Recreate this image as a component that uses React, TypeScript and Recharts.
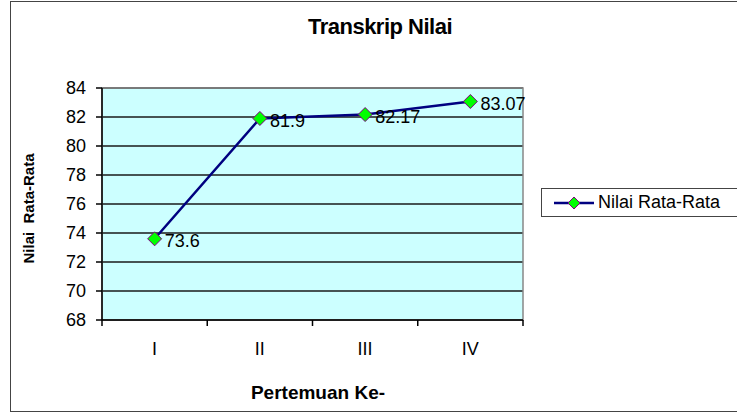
import { LineChart, Line, XAxis, YAxis, CartesianGrid, Legend, LabelList, ReferenceArea } from 'recharts';

const categories = ['I', 'II', 'III', 'IV'];
const nilaiRataRata = [73.6, 81.9, 82.17, 83.07];
const yTicks = [68, 70, 72, 74, 76, 78, 80, 82, 84];
const boundaryTicks = [0, 1, 2, 3, 4];

// pos = tengah kategori pada sumbu numerik 0..4
const data = categories.map((name, i) => ({ name, pos: i + 0.5, value: nilaiRataRata[i] }));

const FONT = 'Arial, "Liberation Sans", sans-serif';

// titik berbentuk belah ketupat hijau
const Diamond = (props: any) => {
  const { cx, cy } = props;
  if (cx == null || cy == null) return null;
  const r = 7;
  return (
    <polygon
      points={`${cx},${cy - r} ${cx + r},${cy} ${cx},${cy + r} ${cx - r},${cy}`}
      fill="#00ff00"
      stroke="#800080"
      strokeWidth={1}
    />
  );
};

const LegendBox = () => (
  <div
    style={{
      width: 200,
      height: 29,
      border: '1.5px solid #444',
      background: '#fff',
      display: 'flex',
      alignItems: 'center',
      fontFamily: FONT,
      fontSize: 18,
      color: '#000',
      boxSizing: 'border-box',
    }}
  >
    <svg width={52} height={16} style={{ marginLeft: 10 }}>
      <line x1={2} y1={8} x2={42} y2={8} stroke="#000080" strokeWidth={2.5} />
      <polygon points="22,2 28,8 22,14 16,8" fill="#00ff00" stroke="#800080" strokeWidth={1} />
    </svg>
    <span style={{ marginLeft: -6 }}>Nilai Rata-Rata</span>
  </div>
);

export default function App() {
  return (
    <div style={{ position: 'absolute', left: 0, top: 0, width: 737, height: 418, background: '#fff', overflow: 'hidden' }}>
      {/* bingkai luar */}
      <div
        style={{
          position: 'absolute',
          left: 10,
          top: 1,
          width: 740,
          height: 411,
          border: '1.5px solid #444',
          boxSizing: 'border-box',
        }}
      />
      <div
        style={{
          position: 'absolute',
          left: 0,
          width: 760,
          top: 14,
          textAlign: 'center',
          fontFamily: FONT,
          fontWeight: 'bold',
          fontSize: 22,
          letterSpacing: -0.5,
        }}
      >
        Transkrip Nilai
      </div>
      <div
        style={{
          position: 'absolute',
          left: 28 - 80,
          top: 200,
          width: 160,
          textAlign: 'center',
          transform: 'rotate(-90deg)',
          fontFamily: FONT,
          fontWeight: 'bold',
          fontSize: 15,
          whiteSpace: 'pre',
        }}
      >
        {'Nilai  Rata-Rata'}
      </div>
      <div
        style={{
          position: 'absolute',
          left: 318 - 100,
          top: 382,
          width: 200,
          textAlign: 'center',
          fontFamily: FONT,
          fontWeight: 'bold',
          fontSize: 19,
        }}
      >
        Pertemuan Ke-
      </div>
      <LineChart width={737} height={418} data={data} margin={{ top: 88, right: 214, left: 62, bottom: 68 }}>
        <CartesianGrid vertical={false} stroke="#1a1a1a" strokeWidth={1.5} fill="#ccffff" fillOpacity={1} />
        <ReferenceArea y1={68} y2={84} fill="none" stroke="#888" strokeWidth={1.5} />
        <YAxis
          domain={[68, 84]}
          ticks={yTicks}
          width={40}
          axisLine={{ stroke: '#000', strokeWidth: 1.5 }}
          tickLine={{ stroke: '#000', strokeWidth: 1.5 }}
          tickSize={6}
          tickMargin={10}
          tick={{ fill: '#000', fontSize: 18, fontFamily: FONT }}
          interval={0}
        />
        {/* garis pembatas antar kategori */}
        <XAxis
          dataKey="pos"
          type="number"
          domain={[0, 4]}
          ticks={boundaryTicks}
          height={6}
          interval={0}
          tick={() => <g />}
          axisLine={{ stroke: '#000', strokeWidth: 1.5 }}
          tickLine={{ stroke: '#000', strokeWidth: 1.5 }}
          tickSize={6}
        />
        <XAxis
          xAxisId="c"
          dataKey="name"
          scale="band"
          height={24}
          axisLine={false}
          tickLine={false}
          tickSize={0}
          tickMargin={16}
          tick={{ fill: '#000', fontSize: 18, fontFamily: FONT }}
        />
        <Legend
          layout="horizontal"
          align="center"
          verticalAlign="middle"
          wrapperStyle={{ left: 541, top: 188, width: 200 }}
          content={() => <LegendBox />}
        />
        <Line
          type="linear"
          dataKey="value"
          name="Nilai Rata-Rata"
          stroke="#000080"
          strokeWidth={2.5}
          dot={<Diamond />}
          activeDot={false}
          isAnimationActive={false}
        >
          <LabelList dataKey="value" position="right" offset={10} fill="#000" fontSize={18} fontFamily={FONT} dy={2} />
        </Line>
      </LineChart>
    </div>
  );
}
